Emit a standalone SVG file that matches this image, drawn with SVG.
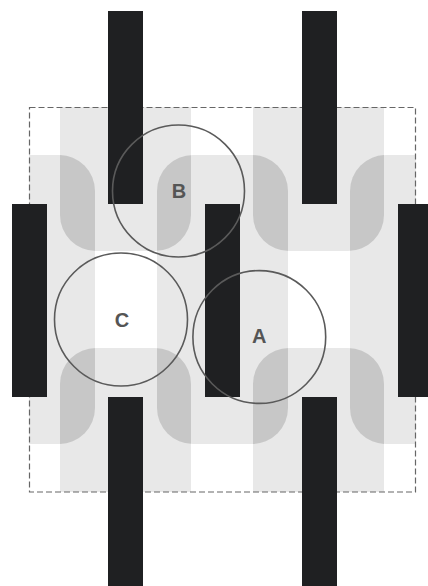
<svg xmlns="http://www.w3.org/2000/svg" width="428" height="586" viewBox="0 0 428 586">
  <style>
    .light { fill: #e8e8e8; }
    .dark { fill: #c7c7c7; }
    .bar { fill: #1f2022; }
    .ring { fill: none; stroke: #5a5a5a; stroke-width: 1.6; }
    .lbl { font-family: "Liberation Sans", Arial, sans-serif; font-weight: bold; font-size: 20px; fill: #555555; text-anchor: middle; }
    .frame { fill: none; stroke: #666666; stroke-width: 1.2; stroke-dasharray: 6 3; }
  </style>
  <defs>
    <clipPath id="box">
      <rect x="29" y="107" width="387" height="385"/>
    </clipPath>
    <clipPath id="ushapes">
      <rect x="60" y="40" width="131" height="211" rx="36"/>
      <rect x="253" y="40" width="131" height="211" rx="36"/>
      <rect x="60" y="348" width="131" height="200" rx="36"/>
      <rect x="253" y="348" width="131" height="200" rx="36"/>
    </clipPath>
  </defs>
  <rect width="428" height="586" fill="#ffffff"/>

  <g id="weave" clip-path="url(#box)">
    <g id="light-shapes" class="light">
      <rect x="60" y="40" width="131" height="211" rx="36"/>
      <rect x="253" y="40" width="131" height="211" rx="36"/>
      <rect x="60" y="348" width="131" height="200" rx="36"/>
      <rect x="253" y="348" width="131" height="200" rx="36"/>
      <rect x="-36" y="155" width="131" height="289" rx="36"/>
      <rect x="157" y="155" width="131" height="289" rx="36"/>
      <rect x="350" y="155" width="131" height="289" rx="36"/>
    </g>
    <g id="overlaps" class="dark" clip-path="url(#ushapes)">
      <rect x="-36" y="155" width="131" height="289" rx="36"/>
      <rect x="157" y="155" width="131" height="289" rx="36"/>
      <rect x="350" y="155" width="131" height="289" rx="36"/>
    </g>
  </g>

  <rect id="frame" class="frame" x="29.5" y="107.5" width="386" height="384.5"/>

  <g id="bars" class="bar">
    <rect id="bar-top-1" x="108" y="11" width="35" height="193"/>
    <rect id="bar-top-2" x="302" y="11" width="35" height="193"/>
    <rect id="bar-mid-1" x="12" y="204" width="35" height="193"/>
    <rect id="bar-mid-2" x="205" y="204" width="35" height="193"/>
    <rect id="bar-mid-3" x="398" y="204" width="35" height="193"/>
    <rect id="bar-bot-1" x="108" y="397" width="35" height="193"/>
    <rect id="bar-bot-2" x="302" y="397" width="35" height="193"/>
  </g>

  <g id="node-B">
    <circle class="ring" cx="178.5" cy="191" r="66"/>
    <text class="lbl" x="179" y="197.5">B</text>
  </g>
  <g id="node-C">
    <circle class="ring" cx="121" cy="319.5" r="66.5"/>
    <text class="lbl" x="122" y="327">C</text>
  </g>
  <g id="node-A">
    <circle class="ring" cx="259.3" cy="337" r="66.4"/>
    <text class="lbl" x="259.3" y="343">A</text>
  </g>
  <g id="connectors"/>
</svg>
